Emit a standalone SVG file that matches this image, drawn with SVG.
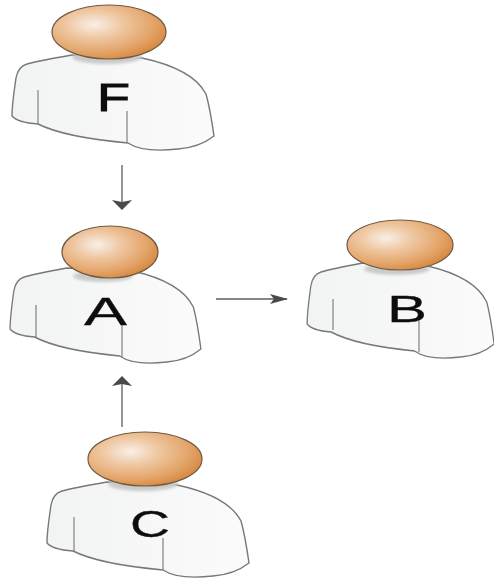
<svg xmlns="http://www.w3.org/2000/svg" xmlns:xlink="http://www.w3.org/1999/xlink" width="494" height="580" viewBox="0 0 494 580">
<style>
.body{fill:url(#shirt);stroke:#77787a;stroke-width:1.4;stroke-linejoin:round}
.fold{fill:none;stroke:#808184;stroke-width:1.2}
.head{fill:url(#skin);stroke:#6f5a42;stroke-width:1.2}
.shade{fill:#c9cbcb;filter:url(#soft)}
.lbl{font-family:"Liberation Sans",Arial,sans-serif;fill:#111;stroke:#111;stroke-width:0.3}
.conn{fill:none;stroke:#5c5c5c;stroke-width:1.3}
.n{filter:url(#blur)}
</style>
<defs>
<filter id="soft" x="-20%" y="-50%" width="140%" height="200%"><feGaussianBlur stdDeviation="1.5"/></filter>
<filter id="blur" x="-5%" y="-5%" width="110%" height="110%"><feGaussianBlur stdDeviation="0.45"/></filter>
<radialGradient id="skin" cx="0.37" cy="0.36" r="0.7">
<stop offset="0" stop-color="#f9efe7"/><stop offset="0.35" stop-color="#efc8a3"/><stop offset="0.75" stop-color="#e3a367"/><stop offset="1" stop-color="#d5873c"/>
</radialGradient>
<linearGradient id="shirt" x1="0" y1="0" x2="1" y2="0">
<stop offset="0" stop-color="#f2f3f3"/><stop offset="1" stop-color="#fbfbfb"/>
</linearGradient>
<marker id="arrowV" markerWidth="10" markerHeight="20" refX="9" refY="10" orient="auto" markerUnits="userSpaceOnUse"><path d="M0 0L10 10L0 20L2 10Z" fill="#4a4a4a"/></marker>
<marker id="arrowH" markerWidth="18" markerHeight="10" refX="17" refY="5" orient="auto" markerUnits="userSpaceOnUse"><path d="M0 0L18 5L0 10L4 5Z" fill="#4a4a4a"/></marker>
<path id="shirtShape" class="body" d="M72 55C55 58 38 61 27 64C20 66 17 72 16 78C14 92 12 104 12 116C16 121 25 123 38 124C60 135 95 140 128 143C140 151 160 151 178 149C192 148 205 143 214 136C212 122 210 108 206 94C196 75 170 64 142 58Z"/>
</defs>
<g id="connectors">
<path class="conn" d="M122 165V209" marker-end="url(#arrowV)"/>
<path class="conn" d="M216 299H287" marker-end="url(#arrowH)"/>
<path class="conn" d="M122 427V377" marker-end="url(#arrowV)"/>
</g>
<g id="node-F" class="n">
<use xlink:href="#shirtShape" href="#shirtShape"/>
<ellipse class="shade" cx="107" cy="57" rx="35" ry="7"/>
<path class="fold" d="M38 90V124M127 111V143"/>
<ellipse class="head" cx="109" cy="32" rx="57" ry="27"/>
<text class="lbl" x="97" y="111" font-size="39" textLength="33" lengthAdjust="spacingAndGlyphs" style="stroke-width:0.9">F</text>
</g>
<g id="node-A" class="n">
<use xlink:href="#shirtShape" href="#shirtShape" transform="translate(-1.3 213) scale(0.945 1)"/>
<ellipse class="shade" cx="103" cy="276" rx="30" ry="6"/>
<path class="fold" d="M36 305V337M122 325V357"/>
<ellipse class="head" cx="110" cy="252" rx="48" ry="26"/>
<text class="lbl" x="84" y="325" font-size="39" textLength="43" lengthAdjust="spacingAndGlyphs">A</text>
</g>
<g id="node-B" class="n">
<use xlink:href="#shirtShape" href="#shirtShape" transform="translate(296 208) scale(0.926 1)"/>
<ellipse class="shade" cx="397" cy="269" rx="33" ry="6"/>
<path class="fold" d="M333 299V330M419 321V352"/>
<ellipse class="head" cx="400" cy="245" rx="53" ry="25"/>
<text class="lbl" x="387" y="322" font-size="37" textLength="40" lengthAdjust="spacingAndGlyphs">B</text>
</g>
<g id="node-C" class="n">
<use xlink:href="#shirtShape" href="#shirtShape" transform="translate(35 427)"/>
<ellipse class="shade" cx="143" cy="484" rx="35" ry="7"/>
<path class="fold" d="M74 517V551M163 538V570"/>
<ellipse class="head" cx="145" cy="459" rx="57" ry="27"/>
<text class="lbl" x="130" y="537" font-size="36" textLength="40" lengthAdjust="spacingAndGlyphs">C</text>
</g>
</svg>
